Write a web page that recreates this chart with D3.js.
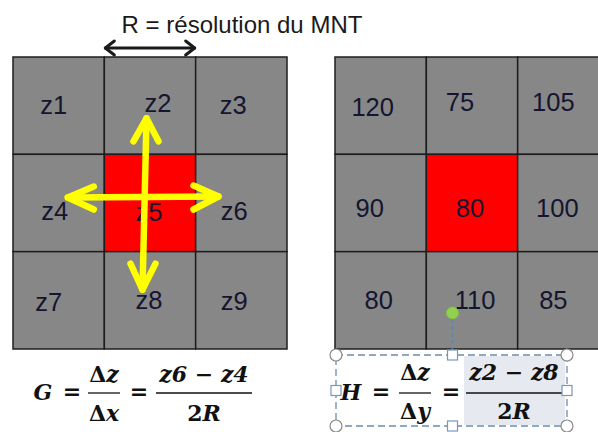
<!DOCTYPE html>
<html><head><meta charset="utf-8">
<script src="https://cdn.jsdelivr.net/npm/d3@7/dist/d3.min.js"></script>
<style>html,body{margin:0;padding:0;background:#fff;overflow:hidden}svg{display:block}</style>
</head><body>
<script>
// ---------- data ----------
const rows = [0, 1, 2];
const cols = [0, 1, 2];
const leftLabels = ["z1","z2","z3","z4","z5","z6","z7","z8","z9"];
const rightValues = [120, 75, 105, 90, 80, 100, 80, 110, 85];
const centerIndex = 4;
const title = "R = résolution du MNT";

// ---------- layout ----------
const W = 598, H = 432;
const svg = d3.select("body").append("svg").attr("width", W).attr("height", H);
const gridTop = 57, gridBottom = 349;
const y = d3.scaleBand().domain(rows).range([gridTop, gridBottom]).padding(0);
const xL = d3.scaleBand().domain(cols).range([13, 287]).padding(0);
const xR = d3.scaleBand().domain(cols).range([335, 609]).padding(0);
const GREY = "#878787", RED = "#ff0000", LINE = "#1e1e1e";
const nudgeL = [[-5,-1],[8,-3],[-8,-1],[-4,8],[-1,9],[-7,8],[-10,2],[-1,0],[-7,1]];
const nudgeR = [[-8,1],[-12,-4],[-10,-4],[-11,5],[-2,5],[-6,5],[-2,0],[3,0],[-10,0]];

function drawGrid(x, labels, nudge) {
  const g = svg.append("g");
  const cells = labels.map((v, i) => ({v, i, r: Math.floor(i / 3), c: i % 3}));
  g.selectAll("rect").data(cells).join("rect")
    .attr("x", d => x(d.c)).attr("y", d => y(d.r))
    .attr("width", x.bandwidth()).attr("height", y.bandwidth())
    .attr("fill", d => d.i === centerIndex ? RED : GREY)
    .attr("stroke", LINE).attr("stroke-width", 1.5);
  g.selectAll("text").data(cells).join("text")
    .attr("x", d => x(d.c) + x.bandwidth() / 2 + nudge[d.i][0])
    .attr("y", d => y(d.r) + y.bandwidth() / 2 + nudge[d.i][1])
    .attr("text-anchor", "middle").attr("dominant-baseline", "central")
    .attr("font-family", "Liberation Sans, Arial, sans-serif")
    .attr("font-size", 25.5).attr("fill", "#151530")
    .text(d => d.v);
  return g;
}
drawGrid(xL, leftLabels, nudgeL);
drawGrid(xR, rightValues, nudgeR);

// title
svg.append("text").attr("x", 242).attr("y", 33).attr("text-anchor", "middle")
  .attr("font-family", "Liberation Sans, Arial, sans-serif").attr("font-size", 24)
  .attr("fill", "#1a1a1a").text(title);

// black double arrow = one cell width (R)
const ax0 = xL(1), ax1 = xL(2), ay = 48;
const arrowG = svg.append("g").attr("stroke", "#1a1a1a").attr("stroke-width", 3)
  .attr("fill", "none").attr("stroke-linecap", "round").attr("stroke-linejoin", "round");
arrowG.append("line").attr("x1", ax0 + 1).attr("x2", ax1 - 1).attr("y1", ay).attr("y2", ay);
arrowG.append("path").attr("d", `M${ax0+10},${ay-7}L${ax0+1},${ay}L${ax0+10},${ay+7}`);
arrowG.append("path").attr("d", `M${ax1-10},${ay-7}L${ax1-1},${ay}L${ax1-10},${ay+7}`);

// yellow arrows
const cx = xL(1) + xL.bandwidth() / 2, cy = y(1) + y.bandwidth() / 2;
const yel = svg.append("g").attr("stroke", "#ffff00").attr("stroke-width", 6.5)
  .attr("fill", "none").attr("stroke-linecap", "round").attr("stroke-linejoin", "round");
const vTop = [cx - 3.5, y(0) + y.bandwidth() * 0.63], vBot = [cx - 7.5, y(2) + y.bandwidth() * 0.39];
const hL = [xL(0) + xL.bandwidth() * 0.6, cy - 5.5], hR = [xL(2) + xL.bandwidth() * 0.25, cy - 6.5];
yel.append("line").attr("x1", vTop[0]).attr("y1", vTop[1]).attr("x2", vBot[0]).attr("y2", vBot[1]);
yel.append("line").attr("x1", hL[0]).attr("y1", hL[1]).attr("x2", hR[0]).attr("y2", hR[1]);
yel.append("path").attr("d", `M${vTop[0]-13},${vTop[1]+23}L${vTop[0]},${vTop[1]}L${vTop[0]+12},${vTop[1]+23}`);
yel.append("path").attr("d", `M${vBot[0]-12},${vBot[1]-26}L${vBot[0]},${vBot[1]}L${vBot[0]+13},${vBot[1]-26}`);
yel.append("path").attr("d", `M${hL[0]+26},${hL[1]-11}L${hL[0]},${hL[1]}L${hL[0]+26},${hL[1]+12}`);
yel.append("path").attr("d", `M${hR[0]-25},${hR[1]-11}L${hR[0]},${hR[1]}L${hR[0]-25},${hR[1]+13}`);

// ---------- formulas ----------
const MF = "DejaVu Serif, serif";
function mtext(g, x, yy, parts, anchor) {
  const t = g.append("text").attr("x", x).attr("y", yy).attr("text-anchor", anchor || "middle")
    .attr("font-family", MF).attr("font-size", 22).attr("font-weight", "bold").attr("fill", "#111");
  parts.forEach(p => t.append("tspan").attr("font-style", p[1] ? "italic" : "normal").text(p[0]));
  return t;
}
function formula(g, o) {
  mtext(g, o.lhsX, o.base, [[o.lhs, true]]);
  mtext(g, o.eq1, o.base - 1, [["=", false]]);
  mtext(g, o.f1, o.num, [["Δ", false], ["z", true]]);
  mtext(g, o.f1, o.den, [["Δ", false], [o.d, true]]);
  g.append("line").attr("x1", o.f1 - 16).attr("x2", o.f1 + 16).attr("y1", o.bar).attr("y2", o.bar)
    .attr("stroke", "#111").attr("stroke-width", 1.3);
  mtext(g, o.eq2, o.base - 1, [["=", false]]);
  mtext(g, o.f2, o.num, [[o.a, true], [" − ", false], [o.b, true]]);
  mtext(g, o.f2, o.den, [["2", false], ["R", true]]);
  g.append("line").attr("x1", o.f2 - 48).attr("x2", o.f2 + 48).attr("y1", o.bar).attr("y2", o.bar)
    .attr("stroke", "#111").attr("stroke-width", 1.3);
}
const fG = svg.append("g");
formula(fG, {lhs: "G", lhsX: 43, eq1: 72, f1: 104, eq2: 139, f2: 204, d: "x",
  a: "z6", b: "z4", base: 400, num: 382, den: 421, bar: 393});

// H formula with selection box
const hb = {x0: 336, x1: 567, y0: 355, y1: 426};
const fH = svg.append("g");
fH.append("rect").attr("x", 464).attr("y", hb.y0 + 1).attr("width", 101).attr("height", hb.y1 - hb.y0 - 2)
  .attr("fill", "#e6eaf0");
formula(fH, {lhs: "H", lhsX: 351, eq1: 381, f1: 415, eq2: 451, f2: 514, d: "y",
  a: "z2", b: "z8", base: 400, num: 380, den: 419, bar: 393});
fH.append("rect").attr("x", hb.x0).attr("y", hb.y0).attr("width", hb.x1 - hb.x0).attr("height", hb.y1 - hb.y0)
  .attr("fill", "none").attr("stroke", "#6d8cae").attr("stroke-width", 1.3).attr("stroke-dasharray", "7,4");
const mx = Math.round((hb.x0 + hb.x1) / 2) + 0.5, my = (hb.y0 + hb.y1) / 2;
fH.append("path").attr("d", `M${mx},319V${hb.y0 - 5}`)
  .attr("stroke", "#5b82b0").attr("stroke-width", 1.5).attr("stroke-dasharray", "4,3").attr("fill", "none");
fH.append("circle").attr("cx", mx).attr("cy", 313).attr("r", 6).attr("fill", "#92d050").attr("stroke", "#84c040");
[[hb.x0, hb.y0], [hb.x1, hb.y0], [hb.x0, hb.y1], [hb.x1, hb.y1]].forEach(p =>
  fH.append("circle").attr("cx", p[0]).attr("cy", p[1]).attr("r", 6).attr("fill", "#fff")
    .attr("stroke", "#8a8a8a").attr("stroke-width", 1.2));
[[mx, hb.y0], [mx, hb.y1], [hb.x0, my], [hb.x1, my]].forEach(p =>
  fH.append("rect").attr("x", p[0] - 5).attr("y", p[1] - 5).attr("width", 10).attr("height", 10)
    .attr("fill", "#fff").attr("stroke", "#7898bb").attr("stroke-width", 1.2));
</script>
</body></html>
